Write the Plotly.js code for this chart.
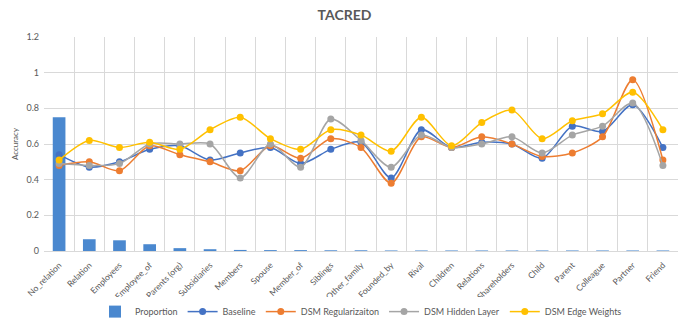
<!DOCTYPE html>
<html>
<head>
<meta charset="utf-8">
<script src="https://cdn.plot.ly/plotly-3.0.1.min.js"></script>
<style>
  html, body { margin: 0; padding: 0; background: #fff; }
  #chart { width: 689px; height: 328px; }
</style>
</head>
<body>
<div id="chart"></div>
<script>
let relations = ["No_relation", "Relation", "Employees", "Employee_of", "Parents (org)", "Subsidiaries",
    "Members", "Spouse", "Member_of", "Siblings", "Other_family", "Founded_by", "Rival", "Children",
    "Relations", "Shareholders", "Child", "Parent", "Colleague", "Partner", "Friend"];

let proportion = [0.75, 0.066, 0.06, 0.038, 0.016, 0.01, 0.006, 0.005, 0.005, 0.004, 0.004,
    0.003, 0.003, 0.003, 0.003, 0.003, 0.003, 0.003, 0.003, 0.003, 0.003];
let baseline = [0.54, 0.47, 0.50, 0.57, 0.59, 0.51, 0.55, 0.58, 0.49, 0.57, 0.61,
    0.41, 0.68, 0.58, 0.61, 0.60, 0.52, 0.70, 0.67, 0.82, 0.58];
let dsmReg = [0.48, 0.50, 0.45, 0.59, 0.54, 0.50, 0.45, 0.59, 0.52, 0.63, 0.58,
    0.38, 0.64, 0.58, 0.64, 0.60, 0.53, 0.55, 0.64, 0.96, 0.51];
let dsmHidden = [0.49, 0.48, 0.49, 0.60, 0.60, 0.60, 0.41, 0.60, 0.47, 0.74, 0.62,
    0.47, 0.65, 0.58, 0.60, 0.64, 0.55, 0.65, 0.70, 0.83, 0.48];
let dsmEdge = [0.51, 0.62, 0.58, 0.61, 0.57, 0.68, 0.75, 0.63, 0.57, 0.68, 0.65,
    0.56, 0.75, 0.59, 0.72, 0.79, 0.63, 0.73, 0.77, 0.89, 0.68];

function lineTrace(name, y, color) {
    return {
        x: relations,
        y: y,
        name: name,
        type: 'scatter',
        mode: 'lines+markers',
        line: { color: color, width: 1.5, shape: 'spline', smoothing: 0.8 },
        marker: { color: color, size: 7 }
    };
}

let data = [
    {
        x: relations,
        y: proportion,
        name: 'Proportion',
        type: 'bar',
        width: 0.42,
        marker: { color: '#4a88cf' }
    },
    lineTrace('Baseline', baseline, '#4472c4'),
    lineTrace('DSM Regularizaiton', dsmReg, '#ed7d31'),
    lineTrace('DSM Hidden Layer', dsmHidden, '#a5a5a5'),
    lineTrace('DSM Edge Weights', dsmEdge, '#ffc000')
];

let layout = {
    width: 689,
    height: 328,
    margin: { l: 44, r: 11, t: 37, b: 77 },
    paper_bgcolor: '#ffffff',
    plot_bgcolor: '#ffffff',
    font: { family: 'Lato, Open Sans, sans-serif', size: 9, color: '#595959' },
    title: {
        text: '<b>TACRED</b>',
        x: 0.5, xanchor: 'center',
        y: 0.955, yanchor: 'middle',
        font: { size: 14, color: '#595959' }
    },
    showlegend: true,
    legend: {
        orientation: 'h',
        x: 0.5, xanchor: 'center',
        yref: 'container',
        y: 0.05, yanchor: 'middle',
        font: { size: 9, color: '#595959' },
        traceorder: 'normal',
        itemwidth: 30
    },
    xaxis: {
        type: 'category',
        range: [-0.5, 20.5],
        tickangle: -45,
        tickson: 'boundaries',
        ticks: '',
        ticklabelstandoff: 5,
        showgrid: true,
        gridcolor: '#d9d9d9',
        showline: true,
        linecolor: '#d9d9d9',
        tickfont: { size: 8.5, color: '#595959' },
        automargin: false
    },
    yaxis: {
        range: [0, 1.2],
        dtick: 0.2,
        showgrid: true,
        gridcolor: '#d9d9d9',
        zeroline: false,
        tickfont: { size: 9, color: '#595959' },
        ticklabelstandoff: 4,
        title: { text: 'Accuracy', font: { size: 8, color: '#595959' }, standoff: 6 },
        automargin: false
    }
};

const config = {
    displayModeBar: false,
    staticPlot: true
};

Plotly.newPlot('chart', data, layout, config);
</script>
</body>
</html>
